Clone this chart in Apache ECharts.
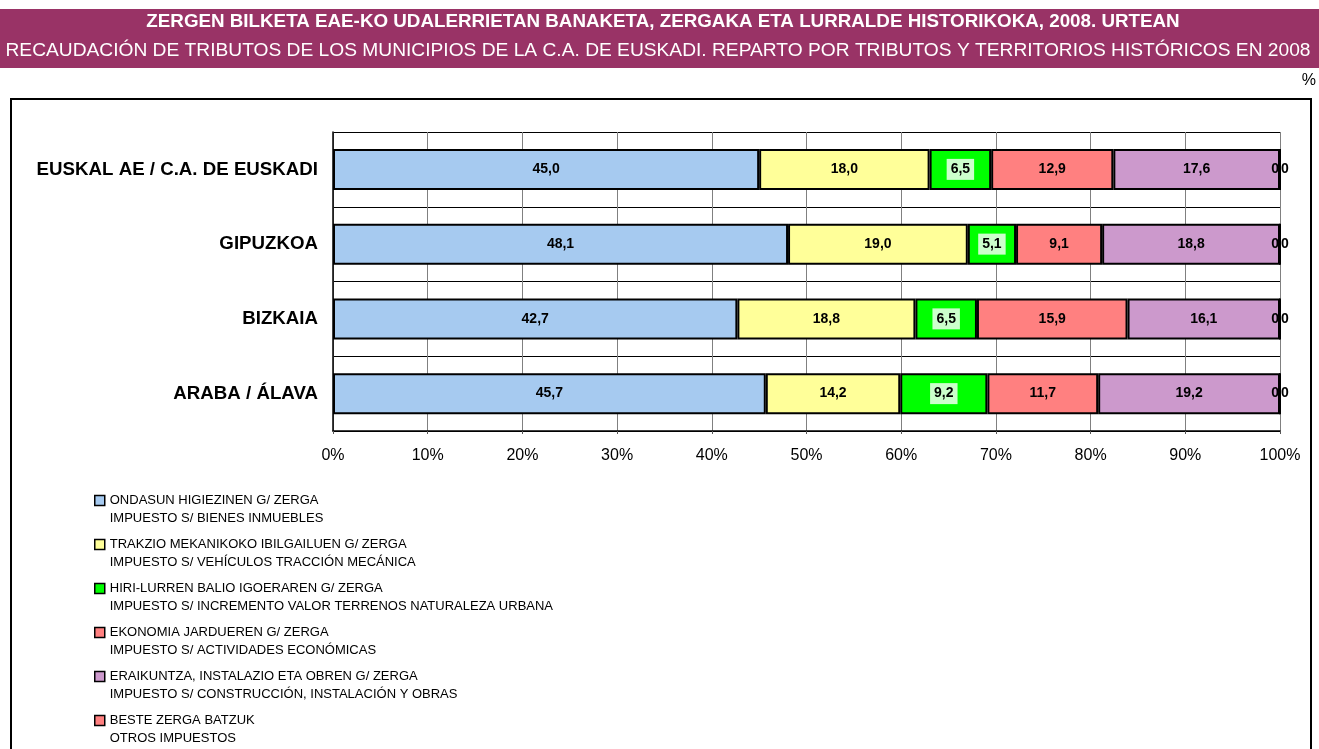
<!DOCTYPE html>
<html>
<head>
<meta charset="utf-8">
<title>Zergen bilketa 2008</title>
<script src="https://cdn.jsdelivr.net/npm/echarts@6/dist/echarts.min.js"></script>
<style>
  html, body { margin: 0; padding: 0; background: #fff; }
  #chart { width: 1319px; height: 749px; }
</style>
</head>
<body>
<div id="chart"></div>
<script>
// Territories (top to bottom)
const territories = ['EUSKAL AE / C.A. DE EUSKADI', 'GIPUZKOA', 'BIZKAIA', 'ARABA / ÁLAVA'];

// Tax names (Basque / Spanish)
const taxNames = [
  'ONDASUN HIGIEZINEN G/ ZERGA\nIMPUESTO S/ BIENES INMUEBLES',
  'TRAKZIO MEKANIKOKO IBILGAILUEN G/ ZERGA\nIMPUESTO S/ VEHÍCULOS TRACCIÓN MECÁNICA',
  'HIRI-LURREN BALIO IGOERAREN G/ ZERGA\nIMPUESTO S/ INCREMENTO VALOR TERRENOS NATURALEZA URBANA',
  'EKONOMIA JARDUEREN G/ ZERGA\nIMPUESTO S/ ACTIVIDADES ECONÓMICAS',
  'ERAIKUNTZA, INSTALAZIO ETA OBREN G/ ZERGA\nIMPUESTO S/ CONSTRUCCIÓN, INSTALACIÓN Y OBRAS',
  'BESTE ZERGA BATZUK\nOTROS IMPUESTOS'
];

// Share of collection per tax (%), one value per territory
const ondasun    = [45.0, 48.1, 42.7, 45.7];
const trakzio    = [18.0, 19.0, 18.8, 14.2];
const hiriLurren = [6.5, 5.1, 6.5, 9.2];
const ekonomia   = [12.9, 9.1, 15.9, 11.7];
const eraikuntza = [17.6, 18.8, 16.1, 19.2];
const beste      = [0.0, 0.0, 0.0, 0.0];

// Percent axis ticks
const xTickStep = 10;
const xMin = 0;
const xMax = 100;

const titleEu = 'ZERGEN BILKETA EAE-KO UDALERRIETAN BANAKETA, ZERGAKA ETA LURRALDE HISTORIKOKA, 2008. URTEAN';
const titleEs = 'RECAUDACIÓN DE TRIBUTOS DE LOS MUNICIPIOS DE LA C.A. DE EUSKADI. REPARTO POR TRIBUTOS Y TERRITORIOS HISTÓRICOS EN 2008';

const FONT = '"Liberation Sans", Arial, Helvetica, sans-serif';

const seriesValues = [ondasun, trakzio, hiriLurren, ekonomia, eraikuntza, beste];
const seriesColors = ['#A6CAF0', '#FFFF99', '#00FF00', '#FF8080', '#CC99CC', '#FF8080'];

// 100% stacking: each bar is scaled by its territory total
const totals = territories.map((_, i) => seriesValues.reduce((s, arr) => s + arr[i], 0));

const fmt = v => v.toFixed(1).replace('.', ',');

const series = seriesValues.map((vals, si) => {
  const isGreen = si === 2;
  const isLast = si === seriesValues.length - 1;
  return {
    name: taxNames[si],
    type: 'bar',
    stack: 'total',
    barWidth: 41,
    clip: false,
    itemStyle: { color: seriesColors[si], borderColor: '#000', borderWidth: 2 },
    label: {
      show: true,
      position: 'inside',
      color: '#000',
      fontFamily: FONT,
      fontWeight: 'bold',
      fontSize: 14,
      backgroundColor: isGreen ? '#CCFFCC' : 'transparent',
      padding: isGreen ? [4, 4, 3, 4] : 0,
      formatter: p => {
        const s = fmt(p.data.raw);
        if (!isLast) return s;
        const parts = s.split(',');
        return '{d|' + parts[0] + '}{sep|}{d|' + parts[1] + '}';
      },
      rich: isLast ? {
        d: { fontFamily: FONT, fontWeight: 'bold', fontSize: 14, color: '#000' },
        sep: { width: 2, height: 16, backgroundColor: '#000' }
      } : undefined
    },
    emphasis: { disabled: true },
    data: vals.map((v, i) => ({ value: v / totals[i] * 100, raw: v }))
  };
});

const chart = echarts.init(document.getElementById('chart'), null, { renderer: 'canvas' });

chart.setOption({
  animation: false,
  backgroundColor: '#fff',
  textStyle: { fontFamily: FONT },
  graphic: [
    { type: 'rect', silent: true, z: -10,
      shape: { x: 0, y: 9, width: 1319, height: 59 },
      style: { fill: '#993366' } },
    { type: 'text', silent: true, x: 663, y: 22,
      style: { text: titleEu, fill: '#fff', font: 'bold 18.8px ' + FONT, align: 'center', verticalAlign: 'middle' } },
    { type: 'text', silent: true, x: 658, y: 51,
      style: { text: titleEs, fill: '#fff', font: '19.2px ' + FONT, align: 'center', verticalAlign: 'middle' } },
    { type: 'text', silent: true, x: 1316, y: 81,
      style: { text: '%', fill: '#000', font: '16px ' + FONT, align: 'right', verticalAlign: 'middle' } },
    { type: 'rect', silent: true, z: -10,
      shape: { x: 11, y: 99, width: 1300, height: 700 },
      style: { fill: 'none', stroke: '#000', lineWidth: 2 } }
  ],
  legend: {
    orient: 'vertical',
    left: 94,
    top: 476,
    padding: 0,
    itemWidth: 10,
    itemHeight: 10,
    itemGap: -5,
    icon: 'rect',
    selectedMode: false,
    itemStyle: { borderColor: '#000', borderWidth: 1.5 },
    formatter: name => '{gap| }\n' + name.split('\n').map(s => '{t|' + s + '}').join('\n'),
    textStyle: {
      rich: {
        gap: { fontSize: 13, lineHeight: 18, fontFamily: FONT },
        t: { fontSize: 13, lineHeight: 18, color: '#000', fontFamily: FONT }
      }
    },
    data: taxNames
  },
  grid: { left: 333, right: 39, top: 132, height: 299, containLabel: false },
  xAxis: {
    type: 'value',
    min: xMin,
    max: xMax,
    interval: xTickStep,
    axisLine: { show: true, lineStyle: { color: '#000', width: 1.5 } },
    axisTick: { show: true, length: 3, lineStyle: { color: '#555' } },
    axisLabel: { formatter: '{value}%', color: '#000', fontSize: 16, fontFamily: FONT, margin: 17 },
    splitLine: { show: true, lineStyle: { color: '#808080', width: 1 } }
  },
  yAxis: {
    type: 'category',
    inverse: true,
    data: territories,
    axisLine: { show: true, lineStyle: { color: '#000', width: 1.5 } },
    axisTick: { show: false },
    axisLabel: { color: '#000', fontSize: 18.7, fontWeight: 'bold', fontFamily: FONT, margin: 15 },
    splitLine: { show: true, lineStyle: { color: '#000', width: 1 } }
  },
  series: series
});
</script>
</body>
</html>
